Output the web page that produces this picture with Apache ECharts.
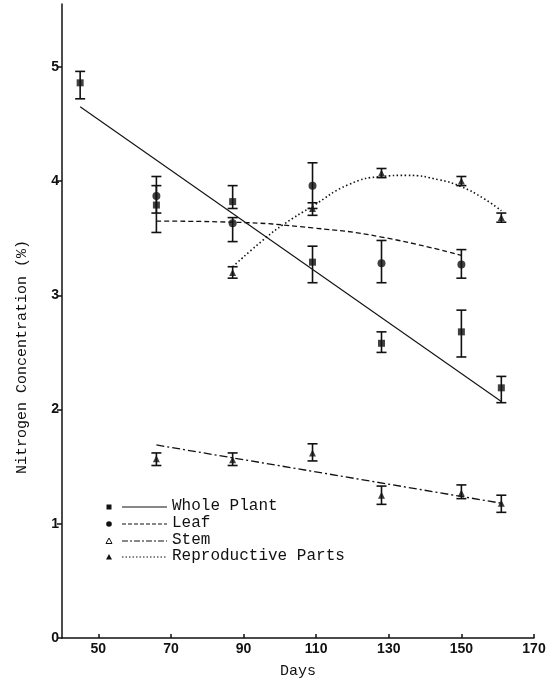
<!DOCTYPE html>
<html>
<head>
<meta charset="utf-8">
<script src="https://cdn.jsdelivr.net/npm/echarts@6/dist/echarts.min.js"></script>
<style>
  html, body { margin: 0; padding: 0; background: #fff; }
  #chart { width: 558px; height: 681px; }
</style>
</head>
<body>
<div id="chart"></div>
<script>
// measured points (days after planting) with error bar ends
var days = [45, 66, 87, 109, 128, 150, 161];
var wholePlant = [4.86, 3.79, 3.82, 3.29, 2.58, 2.68, 2.19];
var wholePlantLow = [4.72, 3.55, 3.76, 3.11, 2.50, 2.46, 2.06];
var wholePlantHigh = [4.96, 3.96, 3.96, 3.43, 2.68, 2.87, 2.29];

var leafDays = [66, 87, 109, 128, 150];
var leaf = [3.87, 3.63, 3.96, 3.28, 3.27];
var leafLow = [3.72, 3.47, 3.76, 3.11, 3.15];
var leafHigh = [4.04, 3.68, 4.16, 3.48, 3.40];

var stemDays = [66, 87, 109, 128, 150, 161];
var stem = [1.57, 1.56, 1.62, 1.25, 1.27, 1.18];
var stemLow = [1.51, 1.51, 1.55, 1.17, 1.22, 1.10];
var stemHigh = [1.62, 1.62, 1.70, 1.33, 1.34, 1.25];

var reproDays = [87, 109, 128, 150, 161];
var repro = [3.20, 3.76, 4.07, 4.00, 3.68];
var reproLow = [3.15, 3.70, 4.03, 3.96, 3.64];
var reproHigh = [3.25, 3.81, 4.11, 4.04, 3.72];

// fitted curves
var wholeFitDays = [45, 161];
var wholeFit = [4.65, 2.07];
var leafFitDays = [66, 87, 109, 128, 150];
var leafFit = [3.65, 3.64, 3.59, 3.51, 3.35];
var stemFitDays = [66, 161];
var stemFit = [1.69, 1.18];
var reproFitDays = [87, 96, 101, 109, 119, 128, 135, 144, 150, 156, 161];
var reproFit = [3.25, 3.50, 3.62, 3.78, 3.97, 4.04, 4.05, 4.01, 3.95, 3.85, 3.74];

var xTicks = [50, 70, 90, 110, 130, 150, 170];
var yTicks = [0, 1, 2, 3, 4, 5];

var ink = '#111';
var mono = '"Liberation Mono", "DejaVu Sans Mono", monospace';

function zip(xs, ys) {
    return xs.map(function (x, i) { return [x, ys[i]]; });
}

function errorBars(xs, lows, highs) {
    return {
        type: 'custom',
        data: xs.map(function (x, i) { return [x, lows[i], highs[i]]; }),
        encode: { x: 0, y: [1, 2] },
        z: 3,
        renderItem: function (params, api) {
            var lo = api.coord([api.value(0), api.value(1)]);
            var hi = api.coord([api.value(0), api.value(2)]);
            var w = 5;
            var st = { stroke: ink, lineWidth: 1.6 };
            return {
                type: 'group',
                children: [
                    { type: 'line', shape: { x1: hi[0], y1: hi[1], x2: lo[0], y2: lo[1] }, style: st },
                    { type: 'line', shape: { x1: hi[0] - w, y1: hi[1], x2: hi[0] + w, y2: hi[1] }, style: st },
                    { type: 'line', shape: { x1: lo[0] - w, y1: lo[1], x2: lo[0] + w, y2: lo[1] }, style: st }
                ]
            };
        }
    };
}

function points(xs, ys, symbol, size) {
    return {
        type: 'scatter',
        data: zip(xs, ys),
        symbol: symbol,
        symbolSize: size,
        itemStyle: { color: ink },
        z: 4
    };
}

function fit(xs, ys, dash, width, smooth) {
    return {
        type: 'line',
        data: zip(xs, ys),
        showSymbol: false,
        smooth: smooth,
        lineStyle: { color: ink, width: width, type: dash },
        z: 2
    };
}

// legend drawn by hand: marker, line sample, label
var legendRows = [
    { y: 507, label: 'Whole Plant', dash: 'solid' },
    { y: 524, label: 'Leaf', dash: [4, 2] },
    { y: 541, label: 'Stem', dash: [6, 2, 2, 2] },
    { y: 557, label: 'Reproductive Parts', dash: [1.5, 2] }
];
var legendGraphics = [];
legendRows.forEach(function (r) {
    legendGraphics.push({
        type: 'line', shape: { x1: 122, y1: r.y, x2: 167, y2: r.y },
        style: { stroke: ink, lineWidth: 1.2, lineDash: r.dash === 'solid' ? null : r.dash }
    });
    legendGraphics.push({
        type: 'text', left: 172, top: r.y - 9,
        style: { text: r.label, font: '16px ' + mono, fill: ink }
    });
});
legendGraphics.push({ type: 'rect', shape: { x: 106.5, y: 504.5, width: 5, height: 5 }, style: { fill: ink } });
legendGraphics.push({ type: 'circle', shape: { cx: 109, cy: 524, r: 2.8 }, style: { fill: ink } });
legendGraphics.push({ type: 'polygon', shape: { points: [[109, 538], [106, 543.5], [112, 543.5]] }, style: { fill: '#fff', stroke: ink, lineWidth: 1 } });
legendGraphics.push({ type: 'polygon', shape: { points: [[109, 554], [106, 559.5], [112, 559.5]] }, style: { fill: ink } });
legendGraphics.push({
    type: 'text', x: 22, y: 357, rotation: Math.PI / 2,
    style: { text: 'Nitrogen Concentration (%)', font: '15px ' + mono, fill: ink, align: 'center', verticalAlign: 'middle' }
});

var chart = echarts.init(document.getElementById('chart'));
var option = {
    animation: false,
    backgroundColor: '#fff',
    grid: { left: 62, right: 24, top: 4, bottom: 43, outerBoundsMode: 'none', containLabel: false },
    xAxis: {
        type: 'value',
        min: 40,
        max: 170,
        name: 'Days',
        nameLocation: 'middle',
        nameGap: 26,
        nameTextStyle: { fontFamily: mono, fontSize: 15, color: ink },
        axisLine: { lineStyle: { color: ink, width: 1.5 } },
        axisTick: { inside: true, length: 4, lineStyle: { color: ink, width: 1.5 }, customValues: xTicks },
        axisLabel: { customValues: xTicks, color: ink, fontFamily: '"Liberation Sans", Arial, sans-serif', fontWeight: 'bold', fontSize: 14, margin: 4 },
        splitLine: { show: false }
    },
    yAxis: {
        type: 'value',
        min: 0,
        max: 5.55,
        axisLine: { show: true, lineStyle: { color: ink, width: 1.5 } },
        axisTick: { show: true, length: 5, lineStyle: { color: ink, width: 1.5 }, customValues: yTicks },
        axisLabel: { customValues: yTicks, color: ink, fontFamily: '"Liberation Sans", Arial, sans-serif', fontWeight: 'bold', fontSize: 14, margin: 3 },
        splitLine: { show: false }
    },
    graphic: legendGraphics,
    series: [
        fit(wholeFitDays, wholeFit, 'solid', 1.1, false),
        fit(leafFitDays, leafFit, [5, 3], 1.3, true),
        fit(stemFitDays, stemFit, [8, 3, 2, 3], 1.3, false),
        fit(reproFitDays, reproFit, [1.5, 2.5], 1.6, true),
        errorBars(days, wholePlantLow, wholePlantHigh),
        errorBars(leafDays, leafLow, leafHigh),
        errorBars(stemDays, stemLow, stemHigh),
        errorBars(reproDays, reproLow, reproHigh),
        points(days, wholePlant, 'rect', 7),
        points(leafDays, leaf, 'circle', 8),
        points(stemDays, stem, 'triangle', 7),
        points(reproDays, repro, 'triangle', 7)
    ]
};
chart.setOption(option);
</script>
</body>
</html>
